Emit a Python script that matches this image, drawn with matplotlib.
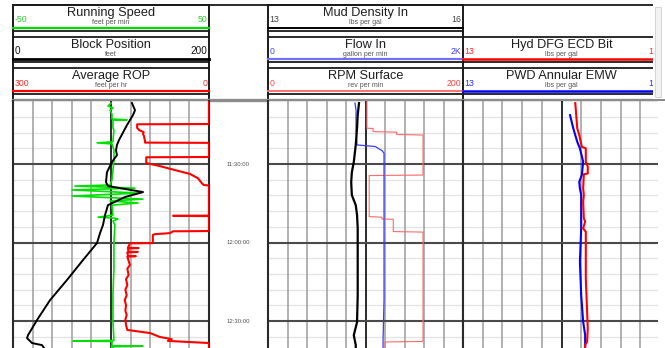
import matplotlib
matplotlib.use("Agg")
import matplotlib.pyplot as plt
from matplotlib.patches import Rectangle
import numpy as np

plt.rcParams['font.family'] = ['Liberation Sans', 'DejaVu Sans']

# ---------------- data (time = minutes after 11:00:00) ----------------
block_t = [6.7, 9.4, 11.3, 15.1, 20.8, 22.7, 24.7, 26.6, 29.2, 33.1, 36.9, 38.4,
           40.7, 42.6, 45.7, 49.5, 53.3, 56.4, 60.2, 66.7, 74.3, 82.0, 89.6, 95.4,
           96.5, 98.4, 99.2, 100.3]
block_ft = [121.4, 124.5, 122.4, 116.3, 108.2, 106.1, 105.1, 106.1, 101.0, 95.9, 94.9, 96.9,
            132.7, 114.3, 96.9, 93.9, 91.8, 88.8, 85.7, 71.4, 55.1, 37.8, 24.5, 15.3,
            14.3, 19.4, 29.6, 31.6]

speed_t = [6.7, 7.8, 8.6, 9.4, 10.9, 12.8, 13.1, 13.3, 16.2, 17.0, 21.5, 21.9, 22.3, 24.7,
           28.5, 32.3, 36.1, 38.0, 38.4, 39.2, 39.9, 41.1, 42.2, 43.4, 44.1, 44.9, 45.7,
           49.5, 50.3, 50.6, 51.0, 51.8, 53.3, 60.0, 70.0, 80.0, 90.0, 97.4, 97.6, 97.8,
           99.4, 99.6, 99.8, 100.3]
speed_fpm = [0.0, -1.5, 1.0, -0.5, 0.5, 0.5, 8.2, 1.0, 1.0, 1.5, 1.0, -7.1, 0.5, 1.5,
             1.5, 1.0, 0.5, -0.5, -18.4, 12.2, -19.9, 14.8, -19.9, 16.3, -0.5, 13.8, 0.5,
             1.0, -6.6, 1.0, 3.6, 1.0, 2.0, 1.5, 1.5, 1.0, 1.0, 1.5, -19.4, 0.5,
             0.5, 16.3, 0.0, 1.0]

rop_t = [5.9, 14.7, 14.8, 16.2, 17.0, 17.8, 18.5, 19.3, 21.2, 21.8, 21.9, 27.3, 27.4, 29.6,
         30.8, 32.3, 33.8, 35.4, 37.3, 38.0, 38.2, 49.7, 49.8, 49.9, 55.6, 55.7, 56.4, 56.8,
         57.1, 60.2, 60.3, 62.0, 62.1, 62.3, 63.5, 63.6, 63.8, 65.1, 65.2, 65.4, 68.6, 70.0,
         72.4, 74.0, 76.3, 78.0, 80.1, 82.0, 83.9, 86.0, 87.7, 89.5, 91.5, 93.4, 94.6, 96.1,
         96.9, 97.6, 98.4, 100.3]
rop_fph = [0, 0, 110, 110, 107, 100, 101, 99.5, 98, 98, 0, 0, 96, 96,
           75, 52, 29, 17, 11, 8, 0, 0, 55, 0, 0, 55, 60, 83,
           86, 86, 121, 124, 108, 124, 123, 109, 125, 124, 112, 125, 121, 125,
           123, 127, 125, 128, 126, 129, 127, 128, 126, 128, 127, 125, 90, 75,
           57, 63, 0, 0]

mud_t = [6.7, 11.3, 16.2, 22.7, 29.2, 33.1, 36.9, 41.9, 45.7, 49.5, 54.5, 67.5, 80.1,
         90.4, 95.4, 99.2, 100.3]
mud_ppg = [14.40, 14.38, 14.37, 14.35, 14.32, 14.29, 14.28, 14.29, 14.35, 14.37, 14.38,
           14.38, 14.38, 14.37, 14.32, 14.35, 14.35]

flow_t = [6.7, 9.4, 17.0, 22.7, 23.3, 24.9, 25.8, 43.8, 62.9, 82.0, 97.3, 100.3]
flow_gpm = [892, 903, 903, 913, 1100, 1170, 1190, 1190, 1190, 1190, 1180, 1180]

rpm_t = [5.9, 16.3, 16.4, 17.6, 17.8, 18.7, 18.9, 34.2, 34.4, 50.1, 50.3, 51.0, 51.1,
         55.8, 56.0, 97.8, 98.0, 100.3]
rpm = [101.5, 101.5, 107.7, 107.7, 132, 132, 159, 159, 103.8, 103.8, 116.9, 116.9, 128.5,
       128.5, 159, 159, 120, 120]

ecd_t = [6.7, 16.4, 18.9, 23.4, 24.0, 29.1, 31.0, 33.6, 33.9, 39.3, 41.8, 44.4, 50.7,
         52.0, 54.6, 55.9, 61.0, 73.7, 86.4, 92.8, 97.9, 99.2, 100.3]
ecd_ppg = [14.71, 14.74, 14.77, 14.81, 14.87, 14.87, 14.90, 14.90, 14.84, 14.83, 14.84,
           14.83, 14.84, 14.86, 14.83, 14.87, 14.87, 14.87, 14.89, 14.90, 14.89, 14.86, 14.86]

emw_t = [11.3, 16.4, 21.5, 24.0, 29.1, 34.2, 36.8, 39.3, 41.8, 54.6, 67.3, 80.1, 90.3,
         95.3, 99.2, 100.3]
emw_ppg = [14.63, 14.68, 14.74, 14.78, 14.83, 14.81, 14.77, 14.78, 14.80, 14.80, 14.78,
           14.80, 14.83, 14.86, 14.86, 14.86]

major_times = [30, 60, 90]
time_labels = ["11:30:00", "12:00:00", "12:30:00"]

# header entries per track row
track1_titles = ["Running Speed", "Block Position", "Average ROP"]
track1_units = ["feet per min", "feet", "feet per hr"]
track1_ends = [("-50", "50"), ("0", "200"), ("300", "0")]
track1_scales = [(-50, 50), (0, 200), (300, 0)]

track2_titles = ["Mud Density In", "Flow In", "RPM Surface"]
track2_units = ["lbs per gal", "gallon per min", "rev per min"]
track2_ends = [("13", "16"), ("0", "2K"), ("0", "200")]
track2_scales = [(13, 16), (0, 2000), (0, 200)]

track3_titles = [None, "Hyd DFG ECD Bit", "PWD Annular EMW"]
track3_units = [None, "lbs per gal", "lbs per gal"]
track3_ends = [None, ("13", "16"), ("13", "16")]
track3_scales = [None, (13, 16), (13, 16)]

# ---------------- layout (pixels) ----------------
W, H = 665, 348
TRACK1 = (13, 209)
DEPTH = (209, 268)
TRACK2 = (268, 463)
TRACK3 = (463, 660)
DATA_TOP, DATA_BOTTOM = 101, 348
T_TOP, T_BOTTOM = 5.9, 100.3
ROW_TOPS = [5, 36.5, 68]

fig = plt.figure(figsize=(W / 100, H / 100), dpi=100)
fig.patch.set_facecolor('white')

# header canvas in pixel units
hdr = fig.add_axes([0, 0, 1, 1])
hdr.set_xlim(0, W)
hdr.set_ylim(H, 0)
hdr.set_axis_off()


def add_px_axes(x0, x1, y0, y1):
    return fig.add_axes([x0 / W, 1 - y1 / H, (x1 - x0) / W, (y1 - y0) / H])


def grid_track(x0, x1, right_spine=True):
    ax = add_px_axes(x0, x1, DATA_TOP, DATA_BOTTOM)
    ax.set_xlim(0, 10)
    ax.set_ylim(T_BOTTOM, T_TOP)
    for m in np.arange(6, 101, 6):
        if m % 30:
            ax.axhline(m, color='#e3e3e3', lw=0.9, zorder=0)
    for v in range(1, 10):
        if v == 5:
            ax.axvline(v, color='#1a1a1a', lw=1.3, zorder=1)
        else:
            ax.axvline(v, color='#9c9c9c', lw=1.1, zorder=1)
    for m in major_times:
        ax.axhline(m, color='#4a4a4a', lw=1.5, zorder=1)
    ax.set_xticks([])
    ax.set_yticks([])
    for s in ['top', 'bottom']:
        ax.spines[s].set_visible(False)
    for s in ['left', 'right']:
        ax.spines[s].set_color('#2a2a2a')
        ax.spines[s].set_linewidth(1.5)
    if not right_spine:
        ax.spines['right'].set_visible(False)
    return ax


def curve(ax, scale, t, v, color, lw):
    cax = ax.twiny()
    cax.set_xlim(*scale)
    cax.set_ylim(T_BOTTOM, T_TOP)
    cax.plot(v, t, color=color, lw=lw, solid_joinstyle='round', zorder=3)
    cax.set_axis_off()
    return cax


ax1 = grid_track(*TRACK1)
ax2 = grid_track(*TRACK2)
ax3 = grid_track(*TRACK3, right_spine=False)

# track 1
curve(ax1, track1_scales[2], rop_t, rop_fph, '#ff0000', 1.5)
curve(ax1, track1_scales[0], speed_t, speed_fpm, '#00e000', 1.2)
curve(ax1, track1_scales[1], block_t, block_ft, '#000000', 1.4)

# track 2
curve(ax2, track2_scales[2], rpm_t, rpm, '#ff6a6a', 0.8)
curve(ax2, track2_scales[1], flow_t, flow_gpm, '#3a3aff', 0.9)
curve(ax2, track2_scales[0], mud_t, mud_ppg, '#000000', 1.6)

# track 3
curve(ax3, track3_scales[2], emw_t, emw_ppg, '#0000ff', 1.5)
curve(ax3, track3_scales[1], ecd_t, ecd_ppg, '#ff0000', 1.5)

# time track
axd = add_px_axes(*DEPTH, DATA_TOP, DATA_BOTTOM)
axd.set_xlim(0, 1)
axd.set_ylim(T_BOTTOM, T_TOP)
axd.set_axis_off()
for m, lab in zip(major_times, time_labels):
    axd.text(0.5, m, lab, ha='center', va='center', fontsize=4.3, color='#505050')

# ---------------- header ----------------
BOX = '#1a1a1a'
hdr.plot([TRACK1[0], 653], [5, 5], color=BOX, lw=1.3)
for x in [TRACK1[0], TRACK1[1], TRACK2[0], TRACK2[1]]:
    hdr.plot([x, x], [5, DATA_TOP], color=BOX, lw=1.4)
hdr.plot([TRACK1[0], W], [99.5, 99.5], color='#8c8c8c', lw=2.4)

line_styles = {
    'track1': [('#00dd00', 1.6, '#2ecc2e'), ('#000000', 2.0, '#111111'), ('#ff0000', 1.6, '#ff2a2a')],
    'track2': [('#000000', 1.4, '#444444'), ('#7070ff', 1.6, '#4444ff'), ('#ff7070', 1.4, '#ff4444')],
    'track3': [None, ('#ff0000', 1.8, '#ff2a2a'), ('#0000ff', 1.8, '#2a2aff')],
}


def header(track, titles, units, ends, styles):
    x0, x1 = track
    for top, title, unit, end, sty in zip(ROW_TOPS, titles, units, ends, styles):
        if title is None:
            continue
        lc, lw, tc = sty
        hdr.plot([x0, x1], [top, top], color=BOX, lw=1.3)
        hdr.plot([x0, x1], [top + 25.5, top + 25.5], color=BOX, lw=1.3)
        hdr.plot([x0, x1], [top + 22.8, top + 22.8], color=lc, lw=lw)
        xc = (x0 + x1) / 2
        hdr.text(xc, top + 11.2, title, ha='center', va='baseline',
                 fontsize=9.2, color='#1e1e1e')
        hdr.text(xc, top + 19.3, unit, ha='center', va='baseline',
                 fontsize=5.0, color='#555555')
        big = 7.2 if tc == '#111111' else 6.3
        hdr.text(x0 + 1.5, top + 15, end[0], ha='left', va='center', fontsize=big, color=tc)
        hdr.text(x1 - 1.5, top + 15, end[1], ha='right', va='center', fontsize=big, color=tc)


header(TRACK1, track1_titles, track1_units, track1_ends, line_styles['track1'])
header(TRACK2, track2_titles, track2_units, track2_ends, line_styles['track2'])
header(TRACK3, track3_titles, track3_units, track3_ends, line_styles['track3'])

# right edge: clipped view with scroll bar
fig.add_artist(Rectangle((653 / W, 1 - 99 / H), 12 / W, 99 / H, transform=fig.transFigure,
                         facecolor='white', edgecolor='none', zorder=10))
fig.add_artist(Rectangle((658 / W, 0), 7 / W, 1 - 101 / H, transform=fig.transFigure,
                         facecolor='white', edgecolor='none', zorder=10))
fig.add_artist(Rectangle((654.5 / W, 1 - 97 / H), 6 / W, 90 / H, transform=fig.transFigure,
                         facecolor='#f3f3f3', edgecolor='#cfcfcf', lw=0.6, zorder=11))

fig.savefig('out.png', dpi=100)
